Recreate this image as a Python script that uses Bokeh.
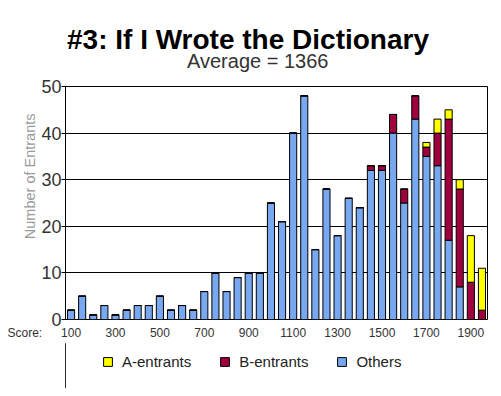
from bokeh.plotting import figure
from bokeh.layouts import column
from bokeh.models import ColumnDataSource, Range1d, FixedTicker, Legend, LegendItem, Title
from bokeh.embed import file_html
from bokeh.resources import INLINE

scores = [100, 150, 200, 250, 300, 350, 400, 450, 500, 550, 600, 650, 700, 750,
          800, 850, 900, 950, 1000, 1050, 1100, 1150, 1200, 1250, 1300, 1350, 1400,
          1450, 1500, 1550, 1600, 1650, 1700, 1750, 1800, 1850, 1900, 1950]
others = [2, 5, 1, 3, 1, 2, 3, 3, 5, 2, 3, 2, 6, 10,
          6, 9, 10, 10, 25, 21, 40, 48, 15, 28, 18, 26, 24,
          32, 32, 40, 25, 43, 35, 33, 17, 7, 0, 0]
b_entrants = [0] * 27 + [1, 1, 4, 3, 5, 2, 7, 26, 21, 8, 2]
a_entrants = [0] * 27 + [0, 0, 0, 0, 0, 1, 3, 2, 2, 10, 9]
x_tick_values = [100, 300, 500, 700, 900, 1100, 1300, 1500, 1700, 1900]
y_tick_values = [0, 10, 20, 30, 40, 50]

title_text = "#3: If I Wrote the Dictionary"
subtitle_text = "Average = 1366"
y_label_text = "Number of Entrants"
x_label_text = "Score:"
legend_labels = ["A-entrants", "B-entrants", "Others"]

series = ["others", "b", "a"]
colors = ["#78A8F0", "#A0003C", "#FFFF00"]

source = ColumnDataSource(dict(score=scores, others=others, b=b_entrants, a=a_entrants))

FONT = "Liberation Sans"

p = figure(frame_width=422, frame_height=233, output_backend="svg", toolbar_location=None,
           x_range=Range1d(75, 1975), y_range=Range1d(0, 50),
           min_border_left=65, min_border_right=8, min_border_top=86, min_border_bottom=24,
           background_fill_color="white", border_fill_color="white")

renderers = p.vbar_stack(series, x="score", width=32, source=source,
                         fill_color=colors, line_color="black", line_width=1)

p.outline_line_color = "black"
p.outline_line_width = 1

p.xgrid.visible = False
p.ygrid.grid_line_color = "black"
p.ygrid.grid_line_width = 1
p.ygrid.grid_line_alpha = 1.0

xaxis = p.xaxis[0]
xaxis.ticker = FixedTicker(ticks=x_tick_values)
xaxis.major_tick_out = 0
xaxis.major_tick_in = 0
xaxis.major_tick_line_color = None
xaxis.minor_tick_line_color = None
xaxis.axis_line_color = None
xaxis.major_label_text_font = FONT
xaxis.major_label_text_font_size = "12px"
xaxis.major_label_text_color = "#333333"
xaxis.major_label_standoff = 8

p.yaxis.ticker = FixedTicker(ticks=y_tick_values)
p.yaxis.major_tick_out = 4
p.yaxis.major_tick_in = 0
p.yaxis.major_tick_line_color = "black"
p.yaxis.minor_tick_line_color = None
p.yaxis.axis_line_color = "black"
p.yaxis.major_label_text_font = FONT
p.yaxis.major_label_text_font_size = "18px"
p.yaxis.major_label_text_color = "#333333"
p.yaxis.major_label_standoff = 0

# Main title (outermost) and subtitle (nearest to the frame)
p.title.text = title_text
p.title.text_font = FONT
p.title.text_font_size = "28px"
p.title.text_font_style = "bold"
p.title.text_color = "black"
p.title.align = "left"
p.title.offset = 1.5
p.title.standoff = -42
p.add_layout(Title(text=subtitle_text, text_font=FONT, text_font_size="20px",
                   text_font_style="normal", text_color="#333333", align="left",
                   offset=121.5, standoff=29), "above")

# Y axis label as a side title
p.add_layout(Title(text=y_label_text, text_font=FONT, text_font_size="14.5px",
                   text_font_style="normal", text_color="#999999", align="right", offset=27,
                   standoff=2), "left")

# "Score:" caption on the same row as the x tick labels (outermost, pulled up)
score_title = Title(text=x_label_text, text_font=FONT, text_font_size="12px",
                    text_font_style="normal", text_color="#333333", align="left",
                    offset=-58, vertical_align="top", standoff=-26.8)
p.below = [xaxis, score_title]

# Legend strip under the chart (its frame is aligned with the chart frame by the column)
lg = figure(width=495, height=45, output_backend="svg", toolbar_location=None,
            x_range=Range1d(0, 1), y_range=Range1d(0, 1),
            x_axis_location=None, y_axis_location=None, min_border=0,
            outline_line_color=None, background_fill_color="white", border_fill_color="white")
lg.xgrid.visible = False
lg.ygrid.visible = False
# legend swatches: proxies kept far outside the strip's visible range
legend_renderers = [lg.vbar(x=[-5], bottom=[0], top=[1], width=0.1, fill_color=c,
                            line_color="black")
                    for c in [colors[2], colors[1], colors[0]]]
legend = Legend(items=[LegendItem(label=lab, renderers=[r])
                       for lab, r in zip(legend_labels, legend_renderers)],
                orientation="horizontal", location=(37, 18),
                glyph_width=11, glyph_height=11, label_standoff=9, spacing=28,
                padding=0, margin=0, border_line_color=None, background_fill_alpha=0,
                label_text_font=FONT, label_text_font_size="15px", label_text_color="#222222",
                label_height=11, label_width=0)
lg.add_layout(legend, "center")

layout = column(p, lg, spacing=0)
open("out.html", "w").write(file_html(layout, INLINE))
